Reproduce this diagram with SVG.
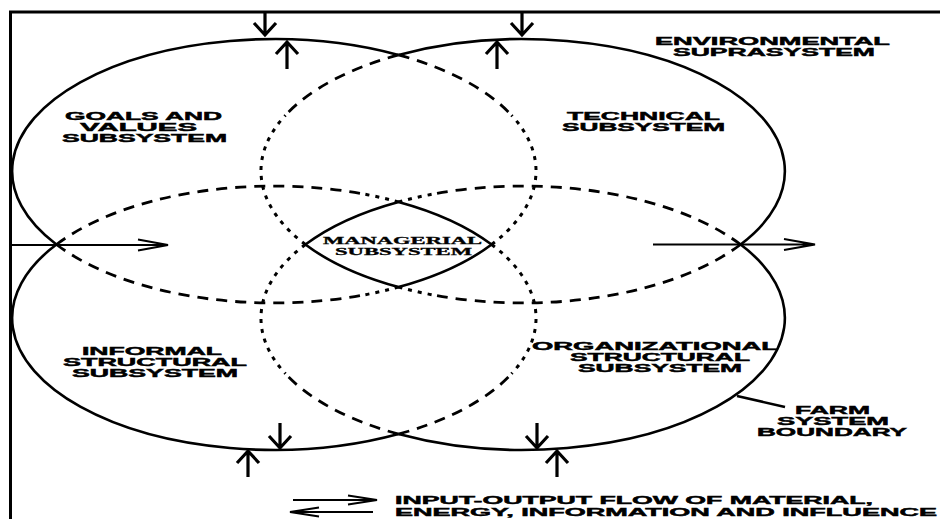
<svg xmlns="http://www.w3.org/2000/svg" width="940" height="519" viewBox="0 0 940 519">
<style>
.solid{fill:none;stroke:#000;stroke-width:2.6}
.dash{fill:none;stroke:#000;stroke-width:2.8;stroke-dasharray:11 8}
.dot{fill:none;stroke:#000;stroke-width:3;stroke-dasharray:4 6}
.thick{fill:none;stroke:#000;stroke-width:3.2}
.thin{fill:none;stroke:#000;stroke-width:2}
.lbl{font-family:"Liberation Sans",Arial,sans-serif;font-weight:bold;font-size:11px;fill:#000;stroke:#000;stroke-width:0.45}
.mgr{font-family:"Liberation Serif","Times New Roman",serif;font-weight:bold;font-size:10.5px;fill:#000;stroke:#000;stroke-width:0.3}
</style>
<rect width="940" height="519" fill="#fff"/>
<path d="M10.5 519 V12 H940" fill="none" stroke="#000" stroke-width="3"/>

<g id="goals-values">
<path class="solid" d="M56.4 244.5 A262 132 0 0 1 398.5 54.9"/>
<path class="dash" d="M398.5 54.9 A262 132 0 0 1 511.5 115.2"/>
<path class="dot" d="M491.6 244.5 A262 132 0 0 0 511.5 115.2"/>
<path class="dash" d="M56.4 244.5 A262 132 0 0 0 363.6 295"/>
<path class="dot" d="M398.5 287.1 A262 132 0 0 1 363.6 295"/>
<text class="lbl" x="65" y="120" textLength="157" lengthAdjust="spacingAndGlyphs">GOALS AND</text>
<text class="lbl" x="80" y="131" textLength="117" lengthAdjust="spacingAndGlyphs">VALUES</text>
<text class="lbl" x="62" y="141.5" textLength="165" lengthAdjust="spacingAndGlyphs">SUBSYSTEM</text>
</g>

<g id="technical">
<path class="solid" d="M398.5 54.9 A262 132 0 0 1 740.6 244.5"/>
<path class="dash" d="M398.5 54.9 A262 132 0 0 0 285.5 115.2"/>
<path class="dot" d="M305.4 244.5 A262 132 0 0 1 285.5 115.2"/>
<path class="dash" d="M740.6 244.5 A262 132 0 0 1 433.4 295"/>
<path class="dot" d="M398.5 287.1 A262 132 0 0 0 433.4 295"/>
<text class="lbl" x="567" y="120" textLength="153" lengthAdjust="spacingAndGlyphs">TECHNICAL</text>
<text class="lbl" x="562" y="130.5" textLength="163" lengthAdjust="spacingAndGlyphs">SUBSYSTEM</text>
</g>

<g id="informal-structural">
<path class="solid" d="M398.5 434.1 A262 132 0 0 1 56.4 244.5"/>
<path class="dash" d="M56.4 244.5 A262 132 0 0 1 363.6 194"/>
<path class="dot" d="M398.5 201.9 A262 132 0 0 0 363.6 194"/>
<path class="dot" d="M491.6 244.5 A262 132 0 0 1 511.5 373.8"/>
<path class="dash" d="M398.5 434.1 A262 132 0 0 0 511.5 373.8"/>
<text class="lbl" x="82" y="355" textLength="140" lengthAdjust="spacingAndGlyphs">INFORMAL</text>
<text class="lbl" x="63" y="366" textLength="184" lengthAdjust="spacingAndGlyphs">STRUCTURAL</text>
<text class="lbl" x="72" y="377" textLength="166" lengthAdjust="spacingAndGlyphs">SUBSYSTEM</text>
</g>

<g id="organizational-structural">
<path class="solid" d="M740.6 244.5 A262 132 0 0 1 398.5 434.1"/>
<path class="dash" d="M740.6 244.5 A262 132 0 0 0 433.4 194"/>
<path class="dot" d="M398.5 201.9 A262 132 0 0 1 433.4 194"/>
<path class="dot" d="M305.4 244.5 A262 132 0 0 0 285.5 373.8"/>
<path class="dash" d="M398.5 434.1 A262 132 0 0 1 285.5 373.8"/>
<text class="lbl" x="532" y="350" textLength="246" lengthAdjust="spacingAndGlyphs">ORGANIZATIONAL</text>
<text class="lbl" x="570" y="361" textLength="180" lengthAdjust="spacingAndGlyphs">STRUCTURAL</text>
<text class="lbl" x="578" y="372" textLength="164" lengthAdjust="spacingAndGlyphs">SUBSYSTEM</text>
</g>

<g id="managerial">
<path class="solid" d="M305.4 244.5 A262 132 0 0 1 398.5 201.9 A262 132 0 0 1 491.6 244.5 A262 132 0 0 1 398.5 287.1 A262 132 0 0 1 305.4 244.5 Z"/>
<text class="mgr" x="323" y="244" textLength="159" lengthAdjust="spacingAndGlyphs">MANAGERIAL</text>
<text class="mgr" x="335" y="255" textLength="137" lengthAdjust="spacingAndGlyphs">SUBSYSTEM</text>
</g>

<g id="environmental-suprasystem">
<text class="lbl" x="655" y="45" textLength="235" lengthAdjust="spacingAndGlyphs">ENVIRONMENTAL</text>
<text class="lbl" x="673" y="56" textLength="202" lengthAdjust="spacingAndGlyphs">SUPRASYSTEM</text>
</g>

<g id="farm-boundary">
<path class="solid" d="M737 396 L785 407"/>
<text class="lbl" x="795" y="414" textLength="75" lengthAdjust="spacingAndGlyphs">FARM</text>
<text class="lbl" x="777" y="425" textLength="112" lengthAdjust="spacingAndGlyphs">SYSTEM</text>
<text class="lbl" x="757" y="436" textLength="150" lengthAdjust="spacingAndGlyphs">BOUNDARY</text>
</g>

<g id="connectors">
<path class="thick" d="M265 12 V34 M254 23 L265 35 L276 23"/>
<path class="thick" d="M287 69 V44 M276 54 L287 42 L298 54"/>
<path class="thick" d="M522 12 V34 M511 23 L522 35 L533 23"/>
<path class="thick" d="M497 69 V44 M486 54 L497 42 L508 54"/>
<path class="thick" d="M280 423 V447 M269 436 L280 448 L291 436"/>
<path class="thick" d="M248 477 V453 M237 463 L248 451 L259 463"/>
<path class="thick" d="M537 423 V447 M526 436 L537 448 L548 436"/>
<path class="thick" d="M557 477 V453 M546 463 L557 451 L568 463"/>
<path class="thin" d="M10 245 H166 M138 239.5 L168 245 L138 250.5"/>
<path class="thin" d="M653 244.5 H813 M784 239 L815 244.5 L784 250"/>
</g>

<g id="legend">
<path class="thin" d="M293 500 H375 M348 495.5 L377 500 L348 504.5"/>
<path class="thin" d="M373 512 H292 M319 507.5 L290 512 L319 516.5"/>
<text class="lbl" x="395" y="503.5" textLength="478" lengthAdjust="spacingAndGlyphs">INPUT-OUTPUT FLOW OF MATERIAL,</text>
<text class="lbl" x="395" y="515.5" textLength="542" lengthAdjust="spacingAndGlyphs">ENERGY, INFORMATION AND INFLUENCE</text>
</g>
</svg>
